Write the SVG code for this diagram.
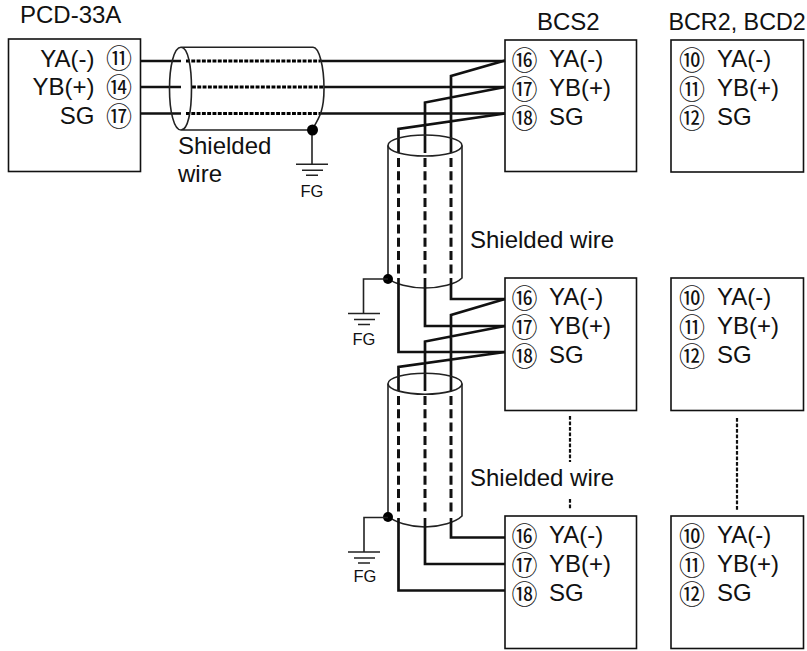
<svg xmlns="http://www.w3.org/2000/svg" width="807" height="651" viewBox="0 0 807 651">
<defs>
<style>
text{font-family:"Liberation Sans",Arial,sans-serif;font-size:24px;fill:#111}
.n{font-family:"Noto Sans CJK JP","Liberation Sans",sans-serif;font-size:26px;text-anchor:middle}
.fg{font-size:16.500px;text-anchor:middle}
.t{font-size:23.300px}
.box{fill:#fff;stroke:#111;stroke-width:1.6}
.w{fill:none;stroke:#111;stroke-width:2.7}
.d{fill:none;stroke:#000;stroke-width:3;stroke-dasharray:3.900 1.400}
.dv{fill:none;stroke:#111;stroke-width:3;stroke-dasharray:9 4.300}
.s{fill:none;stroke:#222;stroke-width:1.6}
.dot{fill:#000}
.e{text-anchor:end}
.dl{fill:none;stroke:#111;stroke-width:2.200;stroke-dasharray:3.800 1.700}
</style>
<g id="ground"><path d="M0 0H32M6 6H27M10 11H22" fill="none" stroke="#222" stroke-width="1.5"/></g>
</defs>
<g id="pcd"><rect class="box" x="8.500" y="39" width="132" height="132.500"/>
<text x="20" y="23">PCD-33A</text>
<text class="e" x="94.500" y="66.500">YA(-)</text><text class="e" x="94.500" y="95">YB(+)</text><text class="e" x="94.500" y="124">SG</text>
<text class="n" x="119" y="68">⑪</text><text class="n" x="119" y="97">⑭</text><text class="n" x="119" y="126">⑰</text></g>
<g id="bcs1"><rect class="box" x="505" y="40" width="131.500" height="131.500"/>
<text x="537" y="30">BCS2</text>
<text class="n" x="524.500" y="69.500">⑯</text><text x="549" y="66.500">YA(-)</text>
<text class="n" x="524.500" y="98.500">⑰</text><text x="549" y="95.500">YB(+)</text>
<text class="n" x="524.500" y="127.500">⑱</text><text x="549" y="124.500">SG</text></g>
<g id="bcs2"><rect class="box" x="505" y="278" width="131.500" height="132.500"/>
<text class="n" x="524.500" y="307.500">⑯</text><text x="549" y="304.500">YA(-)</text>
<text class="n" x="524.500" y="336.500">⑰</text><text x="549" y="333.500">YB(+)</text>
<text class="n" x="524.500" y="365.500">⑱</text><text x="549" y="362.500">SG</text></g>
<g id="bcs3"><rect class="box" x="505" y="516" width="131.500" height="132.500"/>
<text class="n" x="524.500" y="545.500">⑯</text><text x="549" y="542.500">YA(-)</text>
<text class="n" x="524.500" y="574.500">⑰</text><text x="549" y="571.500">YB(+)</text>
<text class="n" x="524.500" y="603.500">⑱</text><text x="549" y="600.500">SG</text></g>
<g id="bcr1"><rect class="box" x="671" y="40" width="132.500" height="132"/>
<text class="t" x="668.500" y="30">BCR2, BCD2</text>
<text class="n" x="692" y="69.500">⑩</text><text x="717" y="66.500">YA(-)</text>
<text class="n" x="692" y="98.500">⑪</text><text x="717" y="95.500">YB(+)</text>
<text class="n" x="692" y="127.500">⑫</text><text x="717" y="124.500">SG</text></g>
<g id="bcr2"><rect class="box" x="671" y="278" width="132.500" height="132.500"/>
<text class="n" x="692" y="307.500">⑩</text><text x="717" y="304.500">YA(-)</text>
<text class="n" x="692" y="336.500">⑪</text><text x="717" y="333.500">YB(+)</text>
<text class="n" x="692" y="365.500">⑫</text><text x="717" y="362.500">SG</text></g>
<g id="bcr3"><rect class="box" x="671" y="516" width="132.500" height="132.500"/>
<text class="n" x="692" y="545.500">⑩</text><text x="717" y="542.500">YA(-)</text>
<text class="n" x="692" y="574.500">⑪</text><text x="717" y="571.500">YB(+)</text>
<text class="n" x="692" y="603.500">⑫</text><text x="717" y="600.500">SG</text></g>
<g id="connectors">
<path class="w" d="M141 61H181M320 61H505M141 87H181M324 87H505M141 113.500H181M320 113.500H505"/>
<path class="d" d="M186 61H320M192 87H324M186 113.500H320"/>
<path class="s" d="M181 47.300C174 47.300 169.500 66 169.500 88.700S174 130 181 130 191.500 111 191.500 88.700 188 47.300 181 47.300H313C319 47.300 324 66 324 88.700S319 118 312 130H181"/>
<path class="s" d="M312 130V164"/>
<circle class="dot" cx="312.500" cy="130" r="5.500"/>
<use href="#ground" x="296" y="164.300"/>
<text class="fg" x="312" y="196.500">FG</text>
<path class="w" d="M505 60.500L451 76V153M505 87L425 102.500V153M505 113.500L398.500 129V153"/>
<path class="dv" d="M451 158V277M425 158V277M398.500 158V277"/>
<ellipse class="s" cx="425" cy="145.500" rx="37" ry="10.500"/>
<path class="s" d="M388 145.500V278C394 284 410 288 425 288S456 284 462 278V145.500"/>
<circle class="dot" cx="388" cy="279" r="5"/>
<path class="s" d="M388 279H363.500V313"/>
<use href="#ground" x="348" y="313.500"/>
<text class="fg" x="364" y="345">FG</text>
<path class="w" d="M451 278V299H505M425 278V326H505M398.500 278V352H505"/>
<path class="w" d="M505 299L451 315V391M505 326L425 341.500V391M505 352L398.500 367V391"/>
<path class="dv" d="M451 396V514M425 396V514M398.500 396V514"/>
<ellipse class="s" cx="425" cy="383.700" rx="37" ry="10.500"/>
<path class="s" d="M388 383.700V516C394 522 410 527 425 527S456 522 462 516V383.700"/>
<circle class="dot" cx="388" cy="517" r="5"/>
<path class="s" d="M388 517.500H364V552"/>
<use href="#ground" x="348" y="552"/>
<text class="fg" x="365" y="582">FG</text>
<path class="w" d="M451 518V537.500H505M425 518V564H505M398.500 518V590.500H505"/>
<path class="dl" d="M570 416V462M570 499V510M737 418V510"/>
</g>
<text x="178" y="154">Shielded</text><text x="178" y="182">wire</text>
<text x="470" y="248">Shielded wire</text><text x="470" y="486">Shielded wire</text>
</svg>
